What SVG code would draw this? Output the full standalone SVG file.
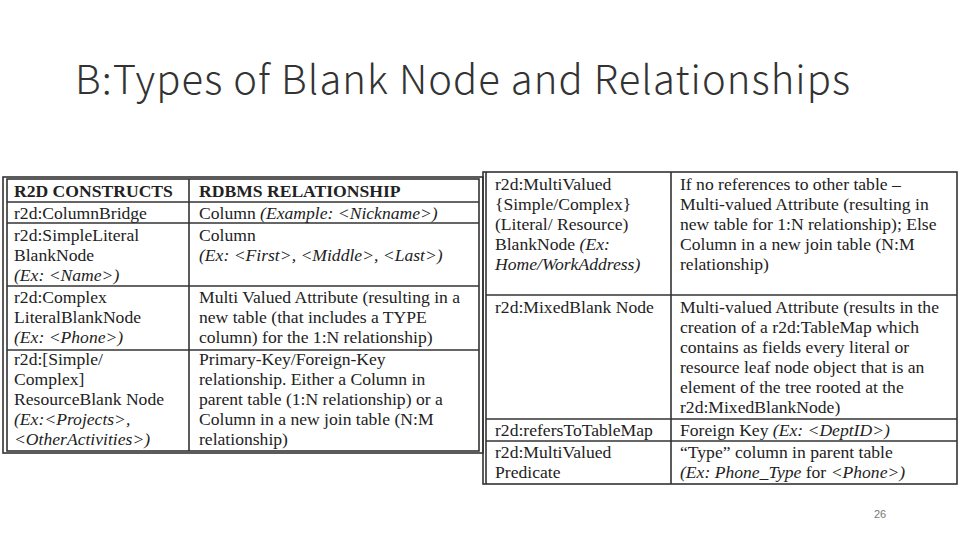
<svg xmlns="http://www.w3.org/2000/svg" width="960" height="540" viewBox="0 0 960 540">
<style>
.t{font-family:"Liberation Serif",serif;font-size:17.6px;fill:#222}
.i{font-style:italic}
.b{font-weight:bold}
.ln{stroke:#333;stroke-width:1.6;fill:none}
</style>
<rect width="960" height="540" fill="#fff"/>
<text x="75" y="94" font-family="'Noto Sans CJK JP', Lato, sans-serif" font-weight="300" font-size="40" fill="#333" textLength="775" lengthAdjust="spacing">B:Types of Blank Node and Relationships</text>
<text x="880" y="518" font-family="'Liberation Sans', sans-serif" font-size="11" fill="#777" text-anchor="middle">26</text>
<g id="left-table">
<rect x="3" y="177" width="480" height="276" class="ln"/>
<rect x="7" y="179" width="472" height="272" class="ln"/>
<g class="ln"><line x1="7" y1="202" x2="479" y2="202"/><line x1="7" y1="223" x2="479" y2="223"/><line x1="7" y1="286" x2="479" y2="286"/><line x1="7" y1="350" x2="479" y2="350"/><line x1="189" y1="179" x2="189" y2="451"/></g>
<text class="t b" x="14" y="197">R2D CONSTRUCTS</text><text class="t b" x="199" y="197">RDBMS RELATIONSHIP</text>
<text class="t" x="14" y="219">r2d:ColumnBridge</text><text class="t" x="199" y="219">Column <tspan class="i">(Example: &lt;Nickname&gt;)</tspan></text>
<text class="t" x="14" y="241">r2d:SimpleLiteral</text><text class="t" x="14" y="261">BlankNode</text><text class="t i" x="14" y="281">(Ex: &lt;Name&gt;)</text>
<text class="t" x="199" y="241">Column</text><text class="t i" x="199" y="261">(Ex: &lt;First&gt;, &lt;Middle&gt;, &lt;Last&gt;)</text>
<text class="t" x="14" y="303">r2d:Complex</text><text class="t" x="14" y="323">LiteralBlankNode</text><text class="t i" x="14" y="343">(Ex: &lt;Phone&gt;)</text>
<text class="t" x="199" y="303">Multi Valued Attribute (resulting in a</text><text class="t" x="199" y="323">new table (that includes a TYPE</text><text class="t" x="199" y="343">column) for the 1:N relationship)</text>
<text class="t" x="14" y="365">r2d:[Simple/</text><text class="t" x="14" y="385">Complex]</text><text class="t" x="14" y="405">ResourceBlank Node</text><text class="t i" x="14" y="425">(Ex:&lt;Projects&gt;,</text><text class="t i" x="14" y="445">&lt;OtherActivities&gt;)</text>
<text class="t" x="199" y="365">Primary-Key/Foreign-Key</text><text class="t" x="199" y="385">relationship. Either a Column in</text><text class="t" x="199" y="405">parent table (1:N relationship) or a</text><text class="t" x="199" y="425">Column in a new join table (N:M</text><text class="t" x="199" y="445">relationship)</text>
</g>
<g id="right-table">
<rect x="483" y="172" width="474" height="312" class="ln"/>
<line x1="486" y1="172" x2="486" y2="484" class="ln"/>
<g class="ln"><line x1="486" y1="295" x2="957" y2="295"/><line x1="486" y1="419" x2="957" y2="419"/><line x1="486" y1="441" x2="957" y2="441"/><line x1="671" y1="172" x2="671" y2="484"/></g>
<text class="t" x="495" y="190">r2d:MultiValued</text><text class="t" x="495" y="210">{Simple/Complex}</text><text class="t" x="495" y="230">(Literal/ Resource)</text><text class="t" x="495" y="250">BlankNode  <tspan class="i">(Ex:</tspan></text><text class="t i" x="495" y="270">Home/WorkAddress)</text>
<text class="t" x="680" y="190">If no references to other table –</text><text class="t" x="680" y="210">Multi-valued Attribute (resulting in</text><text class="t" x="680" y="230">new table for 1:N relationship); Else</text><text class="t" x="680" y="250">Column in a new join table (N:M</text><text class="t" x="680" y="270">relationship)</text>
<text class="t" x="495" y="313">r2d:MixedBlank Node</text>
<text class="t" x="680" y="313">Multi-valued Attribute (results in the</text><text class="t" x="680" y="333">creation of a r2d:TableMap which</text><text class="t" x="680" y="353">contains as fields every literal or</text><text class="t" x="680" y="373">resource leaf node object that is an</text><text class="t" x="680" y="393">element of the tree rooted at the</text><text class="t" x="680" y="413">r2d:MixedBlankNode)</text>
<text class="t" x="495" y="436">r2d:refersToTableMap</text><text class="t" x="680" y="436">Foreign Key <tspan class="i">(Ex: &lt;DeptID&gt;)</tspan></text>
<text class="t" x="495" y="458">r2d:MultiValued</text><text class="t" x="495" y="478">Predicate</text>
<text class="t" x="680" y="458">“Type” column in parent table</text><text class="t" x="680" y="478"><tspan class="i">(Ex: Phone_Type</tspan> for  <tspan class="i">&lt;Phone&gt;)</tspan></text>
</g>
</svg>
